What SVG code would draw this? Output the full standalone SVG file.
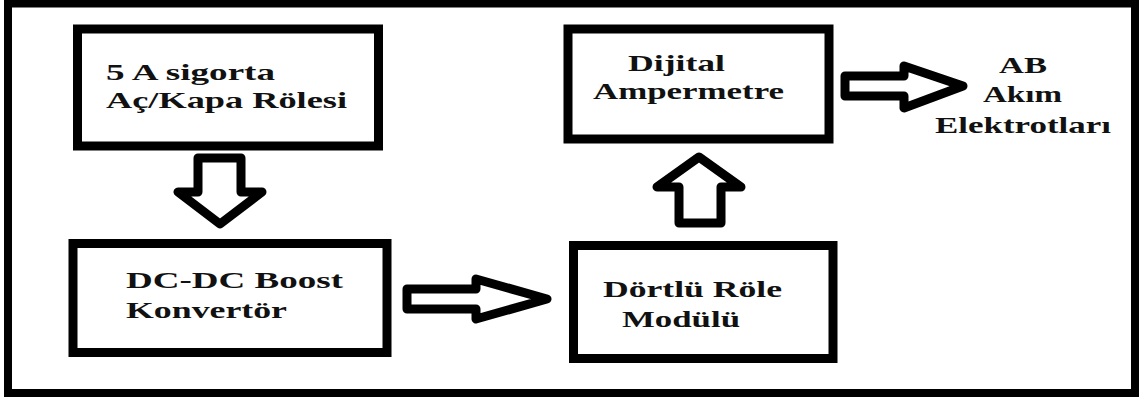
<svg xmlns="http://www.w3.org/2000/svg" width="1142" height="399" viewBox="0 0 1142 399">
<style>
.frame{fill:none;stroke:#000;stroke-width:8}
.box{fill:#fff;stroke:#000;stroke-width:9}
.arrow{fill:#fff;stroke:#000;stroke-width:9;stroke-linejoin:round}
.t{font-family:"Liberation Serif","Times New Roman",serif;font-weight:bold;font-size:23.5px;fill:#111}
</style>
<rect width="1142" height="399" fill="#fff"/>
<rect class="frame" x="8" y="3.5" width="1127" height="389.5"/>
<g id="connectors">
<polygon class="arrow" points="198,158 241,158 241,192 262,192 220,224 178,192 198,192"/>
<polygon class="arrow" points="407,289 476,289 476,279 547,299 476,319 476,309 407,309"/>
<polygon class="arrow" points="679,223 721,223 721,187 741,187 699,157 657,187 679,187"/>
<polygon class="arrow" points="845,76 904,76 904,66 963,86 904,108 904,96 845,96"/>
</g>
<g id="sigorta">
<rect class="box" x="77.5" y="29" width="301" height="117"/>
<text class="t" x="106" y="80" textLength="169" lengthAdjust="spacingAndGlyphs">5 A sigorta</text>
<text class="t" x="106" y="108" textLength="241" lengthAdjust="spacingAndGlyphs">Aç/Kapa Rölesi</text>
</g>
<g id="boost">
<rect class="box" x="73" y="243.5" width="314" height="109"/>
<text class="t" x="126" y="288" textLength="217" lengthAdjust="spacingAndGlyphs">DC-DC Boost</text>
<text class="t" x="126" y="318" textLength="161" lengthAdjust="spacingAndGlyphs">Konvertör</text>
</g>
<g id="ampermetre">
<rect class="box" x="568" y="29" width="261" height="110"/>
<text class="t" x="628" y="71" textLength="97" lengthAdjust="spacingAndGlyphs">Dijital</text>
<text class="t" x="593" y="99" textLength="191" lengthAdjust="spacingAndGlyphs">Ampermetre</text>
</g>
<g id="role">
<rect class="box" x="573.5" y="245.5" width="259.5" height="113"/>
<text class="t" x="603" y="297" textLength="179" lengthAdjust="spacingAndGlyphs">Dörtlü Röle</text>
<text class="t" x="622" y="327" textLength="118" lengthAdjust="spacingAndGlyphs">Modülü</text>
</g>
<g id="elektrotlar">
<text class="t" x="999" y="73" textLength="48" lengthAdjust="spacingAndGlyphs">AB</text>
<text class="t" x="983" y="102" textLength="79" lengthAdjust="spacingAndGlyphs">Akım</text>
<text class="t" x="935" y="133" textLength="176" lengthAdjust="spacingAndGlyphs">Elektrotları</text>
</g>
</svg>
